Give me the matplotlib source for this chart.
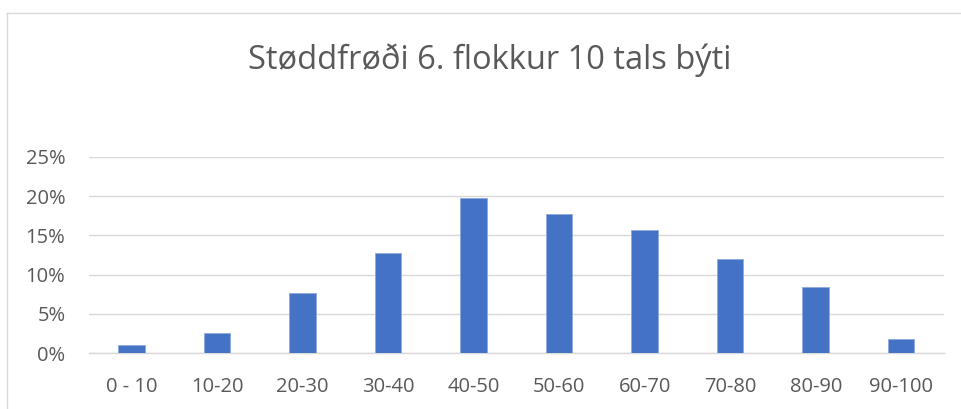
import matplotlib
matplotlib.use("Agg")
import matplotlib.pyplot as plt
from matplotlib.ticker import FuncFormatter
from matplotlib.lines import Line2D

# =========================================================
# DATA
# =========================================================

categories = ["0 - 10", "10-20", "20-30", "30-40", "40-50",
              "50-60", "60-70", "70-80", "80-90", "90-100"]
shares = [0.010, 0.026, 0.077, 0.128, 0.197,
          0.177, 0.157, 0.120, 0.084, 0.018]
y_ticks = [0, 0.05, 0.10, 0.15, 0.20, 0.25]
title = "Støddfrøði 6. flokkur 10 tals býti"

plt.rcParams["font.family"] = ["Open Sans", "DejaVu Sans"]

fig = plt.figure(figsize=(9.61, 4.09), dpi=100)
ax = fig.add_axes([0.0926, 0.1362, 0.8897, 0.4807])

x = list(range(len(categories)))
ax.bar(x, shares, width=0.31, color="#4472C4", edgecolor="#8FAADC",
       linewidth=0.6, zorder=3)

ax.set_xlim(-0.5, len(categories) - 0.5)
ax.set_ylim(0, 0.25)
ax.set_yticks(y_ticks)
ax.yaxis.set_major_formatter(FuncFormatter(lambda v, _: f"{v * 100:.0f}%"))
ax.set_xticks(x)
ax.set_xticklabels(categories)

ax.grid(axis="y", color="#D9D9D9", linewidth=1.0, zorder=0)
for side in ["top", "right", "left"]:
    ax.spines[side].set_visible(False)
ax.spines["bottom"].set_color("#D9D9D9")
ax.spines["bottom"].set_linewidth(1.0)

ax.tick_params(axis="both", length=0, labelsize=14.5, colors="#595959")
ax.tick_params(axis="y", pad=17)
ax.tick_params(axis="x", pad=17)

fig.text(0.51, 0.853, title, ha="center", va="center",
         fontsize=23.5, color="#595959")

# chart frame, only left and top edges fall inside the picture
fig.add_artist(Line2D([7 / 961, 7 / 961], [0, 1 - 13 / 409],
                      transform=fig.transFigure, color="#D9D9D9", linewidth=1.0))
fig.add_artist(Line2D([7 / 961, 1], [1 - 13 / 409, 1 - 13 / 409],
                      transform=fig.transFigure, color="#D9D9D9", linewidth=1.0))

fig.savefig("out.png", dpi=100)
